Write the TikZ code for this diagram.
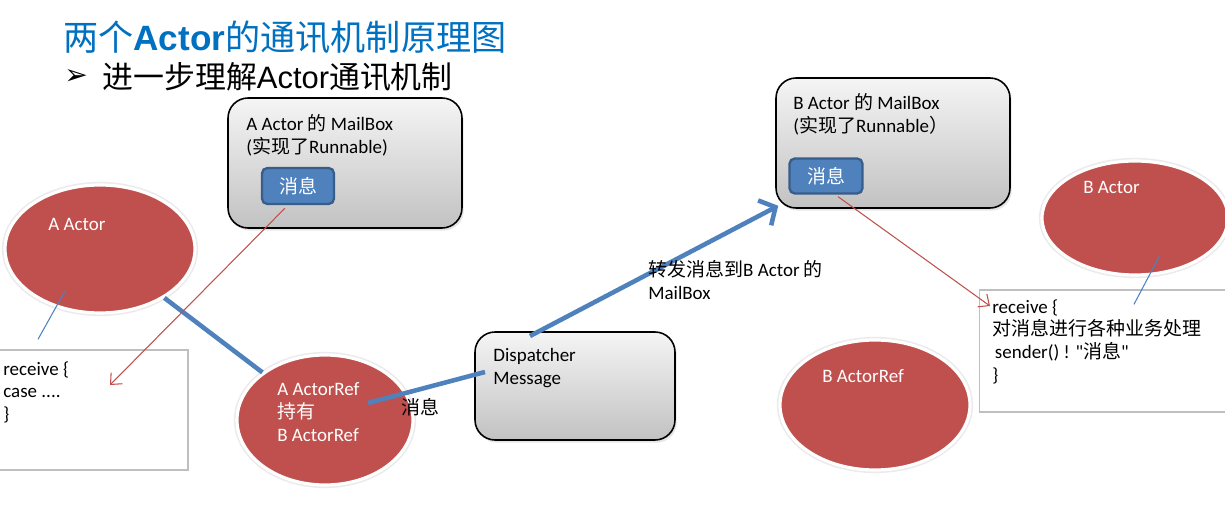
\documentclass[tikz,border=0pt]{standalone}
\usepackage{fontspec}
\setmainfont{Carlito}
\newfontfamily\plainlat{Carlito}
\newfontfamily\cjk{Noto Sans CJK SC}
\newfontfamily\arial{Liberation Sans}
\newfontfamily\dejavu{DejaVu Sans}
\usetikzlibrary{arrows.meta,shapes.geometric,shadows}

\definecolor{titleblue}{RGB}{0,112,192}
\definecolor{actorred}{RGB}{192,80,77}
\definecolor{msgblue}{RGB}{79,129,189}
\definecolor{msgedge}{RGB}{56,93,138}
\definecolor{codeedge}{RGB}{191,191,191}

\newcommand{\zh}[1]{{\cjk #1}}

\begin{document}
\begin{tikzpicture}[x=0.02cm, y=-0.02cm, font=\fontsize{10.8}{13}\selectfont,
    mailbox/.style={draw=black, line width=0.9pt, rounded corners=0.4cm,
        top color=gray!8, bottom color=gray!48, inner sep=0,
        drop shadow={opacity=0.2, shadow xshift=1pt, shadow yshift=-1.5pt}},
    msgbox/.style={draw=msgedge, fill=msgblue, line width=1.3pt, rounded corners=3pt,
        text=white, inner sep=0},
    actor/.style={ellipse, fill=actorred, draw=white, line width=1.8pt, inner sep=0,
        preaction={draw=black!8, line width=3.6pt}},
    codebox/.style={draw=codeedge, line width=0.8pt, fill=white, inner sep=0},
    txt/.style={anchor=north west, align=left, inner sep=0},
    link/.style={msgblue, line width=2.6pt},
    redlink/.style={actorred, line width=0.6pt, -{Straight Barb[length=5pt,width=9pt]}},
    thinlink/.style={msgblue, line width=0.6pt}]

    \clip (0,0) rectangle (1225,520);

    % Title
    \node[anchor=west, inner sep=0, text=titleblue, font=\fontsize{20}{24}\selectfont] (title) at (63,37)
        {\zh{两个}{\arial\bfseries Actor}\zh{的通讯机制原理图}};
    \node[anchor=west, inner sep=0, font=\fontsize{16}{18}\selectfont] (bullet) at (64,77) {\dejavu ➢};
    \node[anchor=west, inner sep=0, font=\fontsize{17.6}{20}\selectfont] (subtitle) at (102,77)
        {\zh{进一步理解}{\arial Actor}\zh{通讯机制}};

    % Code boxes
    \node[codebox, minimum width=3.8cm, minimum height=2.4cm] (lcode) at (93,410) {};
    \node[codebox, minimum width=5.1cm, minimum height=2.44cm] (rcode) at (1107,351) {};
    \node[txt] (lcodetxt) at (3,361) {receive \{\\case ....\\\}};
    \node[txt] (rcodetxt) at (992,299)
        {receive \{\\\zh{对消息进行各种业务处理}\\\hspace{1.5pt}sender() ! {\plainlat "}\zh{消息}{\plainlat "}\\\}};

    % Mailboxes and dispatcher
    \node[mailbox, minimum width=4.68cm, minimum height=2.6cm] (amail) at (345,163) {};
    \node[mailbox, minimum width=4.68cm, minimum height=2.6cm] (bmail) at (893,143) {};
    \node[mailbox, minimum width=4cm, minimum height=2.16cm] (disp) at (575,386) {};
    \node[txt] (amailtxt) at (246,114) {A Actor \zh{的} MailBox\\(\zh{实现了}Runnable)};
    \node[txt] (bmailtxt) at (793,93) {B Actor \zh{的} MailBox\\(\zh{实现了}Runnable\zh{）}};
    \node[txt] (disptxt) at (493,348) {Dispatcher\\Message};
    \node[msgbox, minimum width=1.44cm, minimum height=0.72cm] (amsg) at (298,186) {\zh{消息}};
    \node[msgbox, minimum width=1.46cm, minimum height=0.7cm] (bmsg) at (826,176) {\zh{消息}};

    % Actors
    \node[actor, minimum width=3.8cm, minimum height=2.56cm] (aactor) at (100,249) {};
    \node[actor, minimum width=3.52cm, minimum height=2.6cm] (aref) at (325,420) {};
    \node[actor, minimum width=3.72cm, minimum height=2.28cm] (bactor) at (1135,218) {};
    \node[actor, minimum width=3.8cm, minimum height=2.6cm] (bref) at (875,405) {};
    \node[anchor=west, inner sep=0, text=white] (aactortxt) at (48,224) {A Actor};
    \node[anchor=west, inner sep=0, text=white] (bactortxt) at (1083,187) {B Actor};
    \node[anchor=west, inner sep=0, text=white] (breftxt) at (822,376) {B ActorRef};
    \node[txt, text=white] (areftxt) at (277,382) {A ActorRef\\\zh{持有}\\B ActorRef};

    % Connectors
    \draw[link] (aactor) -- (aref);
    \draw[link] ([shift={(43,-17)}]aref.center) -- ([shift={(-90,-14)}]disp.center);
    \draw[link, -{Straight Barb[length=7pt,width=16pt]}] ([shift={(-45,-50)}]disp.center) -- ([shift={(3,-3)}]bmail.south west);
    \draw[redlink] ([shift={(-13,3)}]amsg.south) -- ([shift={(17,-25)}]lcode.center);
    \draw[redlink] ([shift={(12,2)}]bmsg.south) -- ([shift={(-117,-45)}]rcode.center);
    \draw[thinlink] ([shift={(-35,42)}]aactor.center) -- ([shift={(-55,-10)}]lcode.north);
    \draw[thinlink] ([shift={(25,37)}]bactor.center) -- ([shift={(27,15)}]rcode.north);

    % Connector labels
    \node[inner sep=0] (msglabel) at (420,407) {\zh{消息}};
    \node[txt] (fwdlabel) at (648,260) {\zh{转发消息到}B Actor \zh{的}\\MailBox};
\end{tikzpicture}
\end{document}
